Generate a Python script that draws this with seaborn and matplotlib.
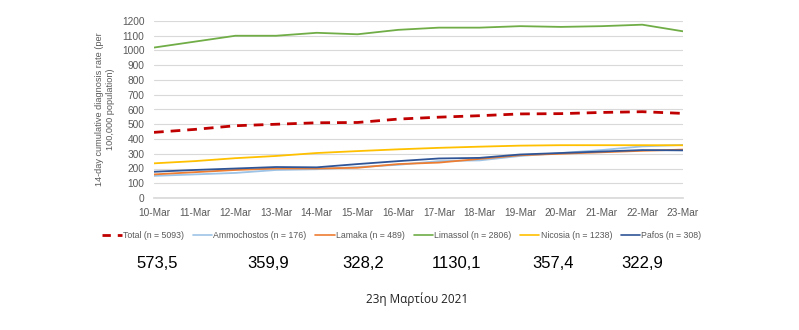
import matplotlib
matplotlib.use("Agg")
import matplotlib.pyplot as plt
import seaborn as sns
import pandas as pd
from matplotlib.lines import Line2D

dates = ["10-Mar", "11-Mar", "12-Mar", "13-Mar", "14-Mar", "15-Mar", "16-Mar",
         "17-Mar", "18-Mar", "19-Mar", "20-Mar", "21-Mar", "22-Mar", "23-Mar"]
total = [445, 465, 490, 500, 510, 512, 535, 548, 558, 570, 572, 580, 585, 573.5]
ammochostos = [150, 160, 170, 190, 195, 210, 225, 250, 255, 285, 305, 325, 350, 359.9]
larnaka = [160, 175, 190, 200, 200, 205, 230, 240, 265, 290, 300, 310, 320, 328.2]
limassol = [1020, 1060, 1100, 1100, 1120, 1110, 1140, 1155, 1155, 1165, 1160, 1165, 1175, 1130.1]
nicosia = [235, 250, 270, 285, 305, 318, 330, 340, 348, 355, 358, 358, 358, 357.4]
pafos = [178, 190, 200, 210, 208, 230, 250, 268, 272, 295, 305, 315, 325, 322.9]

series_names = ["Total (n = 5093)", "Ammochostos (n = 176)", "Lamaka (n = 489)",
                "Limassol (n = 2806)", "Nicosia (n = 1238)", "Pafos (n = 308)"]
series_values = [total, ammochostos, larnaka, limassol, nicosia, pafos]
latest_labels = ["573,5", "359,9", "328,2", "1130,1", "357,4", "322,9"]
title_text = "23η Μαρτίου 2021"
ylabel_text = "14-day cumulative diagnosis rate (per\n100,000 population)"

colors = ["#C00000", "#9DC3E6", "#ED7D31", "#70AD47", "#FFC000", "#2F5597"]

rows = []
for name, vals in zip(series_names, series_values):
    for i, (d, v) in enumerate(zip(dates, vals)):
        rows.append({"date": d, "idx": i, "series": name, "value": v})
df = pd.DataFrame(rows)

sns.set_theme(style="white")
plt.rcParams["font.family"] = ["Liberation Sans", "DejaVu Sans"]

fig = plt.figure(figsize=(7.99, 3.30), dpi=100)
ax = fig.add_axes([154/799, 1 - 198/330, (683 - 154)/799, (198 - 21)/330])

palette = dict(zip(series_names, colors))
widths = {n: (2.0 if i == 0 else 1.3) for i, n in enumerate(series_names)}

for name in series_names[1:] + series_names[:1]:
    sub = df[df["series"] == name]
    sns.lineplot(data=sub, x="idx", y="value", ax=ax, color=palette[name],
                 linewidth=widths[name], legend=False)
    if name == series_names[0]:
        ax.lines[-1].set_dashes((3.5, 2.5))

ax.set_xlim(0, len(dates) - 1)
ax.set_ylim(0, 1200)
ax.set_yticks(range(0, 1201, 100))
ax.set_xticks(range(len(dates)))
ax.set_xticklabels(dates)
ax.tick_params(axis="both", labelsize=7.3, colors="#595959", length=0, pad=7)
ax.tick_params(axis="x", length=3, color="#D9D9D9", direction="out", pad=4)
ax.grid(axis="y", color="#D9D9D9", linewidth=0.8)
ax.set_axisbelow(True)
for s in ["top", "right", "left"]:
    ax.spines[s].set_visible(False)
ax.spines["bottom"].set_color("#D9D9D9")
ax.set_xlabel("")
ax.set_ylabel(ylabel_text, fontsize=6.6, color="#595959", labelpad=5)

handles = []
for i, (n, c) in enumerate(zip(series_names, colors)):
    if i == 0:
        handles.append(Line2D([], [], color=c, linewidth=2.0, dashes=(3, 2.5)))
    else:
        handles.append(Line2D([], [], color=c, linewidth=1.2))
fig.legend(handles, series_names, loc="center", bbox_to_anchor=(402/799, 1 - 236/330),
           ncol=6, frameon=False, fontsize=6.3, handlelength=2.2, handletextpad=0.15,
           columnspacing=1.0, labelcolor="#595959")

xs = [157, 268, 363, 457, 553, 642]
for x, t in zip(xs, latest_labels):
    fig.text(x/799, 1 - 264/330, t, ha="center", va="center", fontsize=12, color="black")

fig.text(417/799, 1 - 299/330, title_text, ha="center", va="center", fontsize=8.5,
         color="#222222", family=["Open Sans", "DejaVu Sans"])

fig.savefig("out.png", dpi=100, facecolor="white")
